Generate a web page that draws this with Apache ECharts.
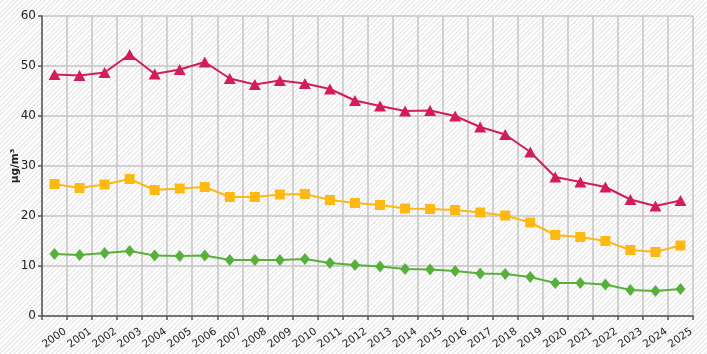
<!DOCTYPE html>
<html>
<head>
<meta charset="utf-8">
<script src="https://cdn.jsdelivr.net/npm/echarts@6/dist/echarts.min.js"></script>
<style>
html,body{margin:0;padding:0;}
#chart{width:707px;height:354px;
background-color:#ffffff;
background-image:repeating-linear-gradient(135deg,#ffffff 0px,#ffffff 2px,#ebebeb 2px,#ebebeb 3.3px);}
</style>
</head>
<body>
<div id="chart"></div>
<script>
const years = ['2000','2001','2002','2003','2004','2005','2006','2007','2008','2009','2010','2011','2012','2013','2014','2015','2016','2017','2018','2019','2020','2021','2022','2023','2024','2025'];
const redSeries = [48.3,48.1,48.7,52.3,48.4,49.3,50.8,47.5,46.3,47.1,46.5,45.4,43.1,42.0,41.0,41.1,40.0,37.8,36.3,32.8,27.8,26.8,25.8,23.3,22.0,23.1];
const yellowSeries = [26.4,25.6,26.3,27.4,25.2,25.5,25.8,23.8,23.8,24.3,24.4,23.2,22.6,22.2,21.5,21.4,21.2,20.7,20.1,18.7,16.2,15.8,15.0,13.2,12.8,14.1];
const greenSeries = [12.4,12.2,12.6,13.0,12.1,12.0,12.1,11.2,11.2,11.2,11.4,10.6,10.2,9.9,9.4,9.3,9.0,8.5,8.4,7.8,6.6,6.6,6.3,5.2,5.0,5.4];
const yTicks = {min:0, max:60, interval:10};
const yName = 'µg/m³';

const chart = echarts.init(document.getElementById('chart'));
const font = 'DejaVu Sans';
chart.setOption({
  animation:false,
  backgroundColor:'transparent',
  grid:{left:42,right:14,top:16,bottom:38,containLabel:false,outerBoundsMode:'none'},
  xAxis:{
    type:'category',
    data:years,
    boundaryGap:true,
    axisLine:{show:true,lineStyle:{color:'#555555',width:1.5}},
    axisTick:{show:true,length:4,inside:false,lineStyle:{color:'#555555',width:1.5}},
    splitLine:{show:true,lineStyle:{color:'#c4c4c4',width:1.5}},
    axisLabel:{rotate:35,interval:0,align:'center',verticalAlign:'middle',margin:22,fontFamily:font,fontSize:10.5,color:'#222222'}
  },
  yAxis:{
    type:'value',
    min:yTicks.min,max:yTicks.max,interval:yTicks.interval,
    name:yName,nameLocation:'middle',nameGap:21,nameMoveOverlap:false,
    nameTextStyle:{fontFamily:font,fontSize:10.5,fontWeight:'bold',color:'#222222'},
    axisLine:{show:true,lineStyle:{color:'#555555',width:1.5}},
    axisTick:{show:true,length:4,lineStyle:{color:'#555555',width:1.5}},
    splitLine:{show:true,lineStyle:{color:'#c4c4c4',width:1.5}},
    axisLabel:{margin:6,fontFamily:font,fontSize:12,color:'#222222'}
  },
  series:[
    {type:'line',data:redSeries,symbol:'triangle',symbolSize:[12,11],
     lineStyle:{color:'#d41c5c',width:2},itemStyle:{color:'#d41c5c'}},
    {type:'line',data:yellowSeries,symbol:'rect',symbolSize:10,
     lineStyle:{color:'#fdb812',width:2},itemStyle:{color:'#fdb812'}},
    {type:'line',data:greenSeries,symbol:'diamond',symbolSize:[10,12],
     lineStyle:{color:'#58b03a',width:2},itemStyle:{color:'#58b03a'}}
  ]
});
</script>
</body>
</html>
